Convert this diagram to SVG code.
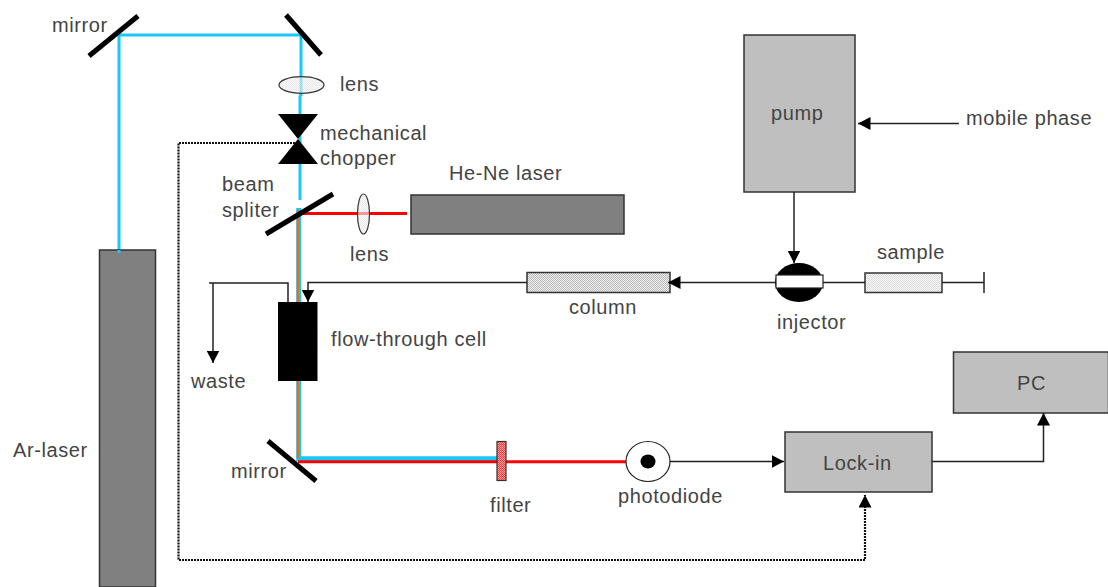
<svg xmlns="http://www.w3.org/2000/svg" width="1108" height="587" viewBox="0 0 1108 587">
<defs>
<marker id="ah" markerUnits="userSpaceOnUse" markerWidth="13" markerHeight="13" refX="12.5" refY="6.5" orient="auto"><path d="M0,0L12.5,6.5L0,13Z" fill="#000"/></marker>
<pattern id="st" width="2" height="2" patternUnits="userSpaceOnUse"><rect width="2" height="2" fill="#f6f6f6"/><rect width="1" height="1" fill="#ddd"/><rect x="1" y="1" width="1" height="1" fill="#ddd"/></pattern>
<pattern id="st2" width="2" height="2" patternUnits="userSpaceOnUse"><rect width="2" height="2" fill="#eee"/><rect width="1" height="1" fill="#bbb"/><rect x="1" y="1" width="1" height="1" fill="#bbb"/></pattern>
<pattern id="st3" width="2" height="2" patternUnits="userSpaceOnUse"><rect width="2" height="2" fill="#ff9a9a"/><rect width="1" height="1" fill="#e44"/><rect x="1" y="1" width="1" height="1" fill="#e44"/></pattern>
</defs>
<style>
text{font-family:"Liberation Sans",Arial,sans-serif;font-size:20px;fill:#444;letter-spacing:.6px}
.box{stroke:#333;stroke-width:1.5}
.gray{fill:#bfbfbf}
.dark{fill:#808080}
.m{stroke:#000;stroke-width:5;fill:none}
.blue{stroke:#19c8f5;stroke-width:3;fill:none}
.blue2{stroke:#19c8f5;stroke-width:5;fill:none}
.red{stroke:#f00;stroke-width:3;fill:none}
.or{stroke:#f06a10;stroke-width:2.5;fill:none}
.w{stroke:#222;stroke-width:1.5;fill:none}
.dot{stroke:#111;stroke-width:2.2;fill:none;stroke-dasharray:2 1 2 1 2 1}
.lens{fill:url(#st);stroke:#333;stroke-width:1.2;fill-opacity:.65}
</style>
<g id="beams">
<path class="blue" d="M119,252V35H301V95L300,96V200"/>
<path class="blue2" d="M298.7,208V458.7H497"/>
<path class="or" d="M298,210V458"/>
<path class="red" d="M300,213.5H407"/>
<path class="red" d="M298,461.7H626"/>
</g>
<g id="ar-laser"><rect class="box dark" x="99.5" y="250" width="56" height="337"/><path class="blue" d="M119,250V253"/><text x="13" y="457">Ar-laser</text></g>
<g id="mirror-top-left"><path class="m" d="M89,56L138,16"/><text x="52" y="32">mirror</text></g>
<g id="mirror-top-right"><path class="m" d="M286,15L321,55"/></g>
<g id="lens-top"><ellipse class="lens" cx="301.5" cy="85" rx="22.5" ry="8.3"/><text x="340" y="91">lens</text></g>
<g id="chopper"><path d="M278,114H318L298,139L318,164H278L298,139Z" fill="#000"/><text x="320" y="140">mechanical</text><text x="320" y="165">chopper</text></g>
<g id="beam-splitter"><path class="m" d="M266,234L333,194"/><text x="222" y="191">beam</text><text x="222" y="217">spliter</text></g>
<g id="lens-he"><ellipse class="lens" cx="363.5" cy="214" rx="6" ry="20"/><text x="350" y="261">lens</text></g>
<g id="he-ne-laser"><rect class="box dark" x="411" y="195" width="213" height="39"/><text x="449" y="180">He-Ne laser</text></g>
<g id="pump"><rect class="box gray" x="744" y="35" width="111" height="157"/><text x="771" y="120">pump</text></g>
<g id="mobile-phase"><text x="966" y="125">mobile phase</text></g>
<g id="injector"><ellipse cx="799" cy="282.5" rx="24" ry="19.5" fill="#000"/><rect x="776" y="275" width="47" height="13" fill="#fff" stroke="#222" stroke-width="1.2"/><text x="777" y="329">injector</text></g>
<g id="sample"><rect class="box" x="865" y="273" width="77" height="19.5" fill="url(#st)"/><text x="877" y="259">sample</text></g>
<g id="column"><rect class="box" x="527" y="272.5" width="143" height="20" fill="url(#st2)"/><text x="569" y="314">column</text></g>
<g id="cell"><rect x="278" y="302" width="39.5" height="79" fill="#000"/><text x="331" y="346">flow-through cell</text></g>
<g id="waste"><text x="191" y="388">waste</text></g>
<g id="mirror-bottom"><path class="m" d="M268,441L316,481"/><text x="231" y="478">mirror</text></g>
<g id="filter"><rect x="497" y="441.5" width="9" height="39" fill="url(#st3)" stroke="#333" stroke-width="1.2"/><text x="490" y="512">filter</text></g>
<g id="photodiode"><ellipse cx="648" cy="461.5" rx="22" ry="20" fill="#fff" stroke="#222" stroke-width="1.2"/><ellipse cx="648" cy="461.5" rx="7.5" ry="7" fill="#000"/><text x="618" y="503">photodiode</text></g>
<g id="lock-in"><rect class="box gray" x="785" y="432" width="147" height="60"/><text x="823" y="470">Lock-in</text></g>
<g id="pc"><rect class="box gray" x="953.5" y="352" width="155" height="61"/><text x="1017" y="390">PC</text></g>
<g id="connectors">
<path class="w" d="M794,192V263" marker-end="url(#ah)"/>
<path class="w" d="M959,123.5H858" marker-end="url(#ah)"/>
<path class="w" d="M775,282.5H668" marker-end="url(#ah)"/>
<path class="w" d="M527,282.5H308V302" marker-end="url(#ah)"/>
<path class="w" d="M288,302V283H209M213,283V363" marker-end="url(#ah)"/>
<path class="w" d="M823,282.5H865"/>
<path class="w" d="M942,282.5H984M984,272V293"/>
<path class="w" d="M670,461.5H784" marker-end="url(#ah)"/>
<path class="w" d="M932,461.5H1043.5V413" marker-end="url(#ah)"/>
<path class="dot" d="M295,143H178.5V560H865V495" marker-end="url(#ah)"/>
</g>
</svg>
